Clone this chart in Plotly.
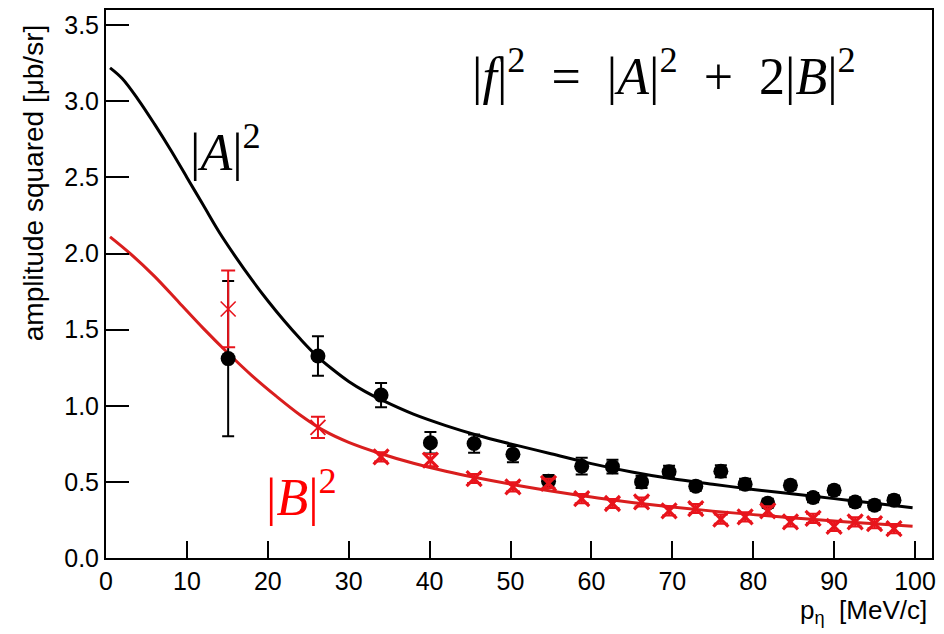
import plotly.graph_objects as go

# ---- data ----
# fitted curve |A|^2 (black), sampled points
curveA_x = [0.5, 2, 4, 6, 8, 10, 12, 14, 16, 18, 20, 22, 24, 26, 28, 30, 32, 34, 38, 42, 46,
            50, 55, 60, 65, 70, 75, 80, 85, 90, 95, 99.7]
curveA_y = [3.22, 3.15, 3.01, 2.85, 2.68, 2.50, 2.32, 2.14, 1.98, 1.83, 1.69, 1.56, 1.44, 1.33,
            1.24, 1.16, 1.095, 1.04, 0.945, 0.87, 0.805, 0.75, 0.685, 0.62, 0.565, 0.52, 0.485,
            0.45, 0.42, 0.39, 0.36, 0.33]

# fitted curve |B|^2 (red)
curveB_x = [0.5, 3, 6, 9, 12, 15, 18, 21, 24, 27, 30, 34, 38, 42, 46, 50, 55, 60, 65, 70,
            75, 80, 85, 90, 95, 99.7]
curveB_y = [2.11, 2.00, 1.85, 1.68, 1.51, 1.35, 1.20, 1.065, 0.94, 0.835, 0.76, 0.685, 0.622,
            0.57, 0.525, 0.485, 0.44, 0.40, 0.365, 0.335, 0.308, 0.285, 0.263, 0.243, 0.225,
            0.209]

# measured points
p_eta = [15.1, 26.2, 34.0, 40.1, 45.5, 50.3, 54.7, 58.8, 62.6, 66.2, 69.6, 72.9, 76.0, 79.0,
         81.8, 84.6, 87.4, 90.0, 92.6, 95.0, 97.4]
A2 = [1.31, 1.327, 1.07, 0.757, 0.752, 0.682, 0.505, 0.603, 0.60, 0.50, 0.566, 0.472, 0.57,
      0.485, 0.36, 0.478, 0.397, 0.445, 0.368, 0.347, 0.38]
A2_err = [0.51, 0.13, 0.08, 0.07, 0.06, 0.053, 0.04, 0.055, 0.045, 0.04, 0.04, 0.03, 0.04,
          0.035, 0.03, 0.03, 0.03, 0.03, 0.03, 0.03, 0.03]
B2 = [1.636, 0.858, 0.664, 0.643, 0.522, 0.467, 0.49, 0.39, 0.358, 0.368, 0.31, 0.325, 0.255,
      0.27, 0.31, 0.237, 0.26, 0.208, 0.237, 0.226, 0.193]
B2_err = [0.252, 0.07, 0.03, 0.04, 0.03, 0.03, 0.03, 0.03, 0.03, 0.03, 0.03, 0.03, 0.03,
          0.03, 0.03, 0.03, 0.03, 0.03, 0.03, 0.03, 0.03]

y_ticks = [0.0, 0.5, 1.0, 1.5, 2.0, 2.5, 3.0, 3.5]
y_ticklabels = ["0.0", "0.5", "1.0", "1.5", "2.0", "2.5", "3.0", "3.5"]
x_ticks = [0, 10, 20, 30, 40, 50, 60, 70, 80, 90, 100]

# ---- styles ----
RED_LINE = "#d91e1e"
RED_MARK = "#e8141c"
SANS = "Liberation Sans, Arial, sans-serif"
SERIF = "Liberation Serif, Times New Roman, serif"
red_marker_widths = [1.6, 1.8] + [3.2] * (len(p_eta) - 2)

fig = go.Figure()

fig.add_trace(go.Scatter(x=curveA_x, y=curveA_y, mode="lines", line_shape="spline",
                         line=dict(color="black", width=3), showlegend=False, hoverinfo="skip"))
fig.add_trace(go.Scatter(x=curveB_x, y=curveB_y, mode="lines", line_shape="spline",
                         line=dict(color=RED_LINE, width=3), showlegend=False, hoverinfo="skip"))

fig.add_trace(go.Scatter(x=p_eta, y=A2, mode="markers",
                         marker=dict(symbol="circle", size=15, color="black"),
                         error_y=dict(type="data", array=A2_err, visible=True,
                                      color="black", thickness=2, width=6),
                         showlegend=False))
fig.add_trace(go.Scatter(x=p_eta, y=B2, mode="markers",
                         marker=dict(symbol="x-thin", size=15, color=RED_MARK,
                                     line=dict(color=RED_MARK, width=red_marker_widths)),
                         error_y=dict(type="data", array=B2_err, visible=True,
                                      color=RED_MARK, thickness=2, width=7),
                         showlegend=False))

fig.add_annotation(x=14.8, y=2.69, xref="x", yref="y", showarrow=False,
                   text="|<i>A</i>|<sup>2</sup>",
                   font=dict(family=SERIF, size=52, color="black"))
fig.add_annotation(x=24.2, y=0.425, xref="x", yref="y", showarrow=False,
                   text="|<i>B</i>|<sup>2</sup>",
                   font=dict(family=SERIF, size=52, color="#ff0000"))
fig.add_annotation(x=69.0, y=3.19, xref="x", yref="y", showarrow=False,
                   text="|<i>f</i>|<sup>2</sup>&nbsp; = &nbsp;|<i>A</i>|<sup>2</sup>&nbsp; + &nbsp;2|<i>B</i>|<sup>2</sup>",
                   font=dict(family=SERIF, size=52, color="black"))

fig.add_annotation(x=-0.0876, y=0.685, xref="paper", yref="paper", showarrow=False,
                   text="amplitude squared [μb/sr]", textangle=-90,
                   xanchor="center", yanchor="middle",
                   font=dict(family=SANS, size=28, color="black"))
fig.add_annotation(x=0.9955, y=-0.066, xref="paper", yref="paper", showarrow=False,
                   text="p<sub>η</sub>  [MeV/c]", xanchor="right", yanchor="top",
                   borderpad=0,
                   font=dict(family=SANS, size=26, color="black"))

fig.update_xaxes(range=[0, 102.1], tickvals=x_ticks, ticktext=[str(v) for v in x_ticks],
                 ticks="inside", ticklen=17, tickwidth=2, tickcolor="black",
                 showline=True, linecolor="black", linewidth=2, mirror=True,
                 showgrid=False, zeroline=False,
                 tickfont=dict(family=SANS, size=25, color="black"))
fig.update_yaxes(range=[0, 3.6], tickvals=y_ticks, ticktext=y_ticklabels,
                 ticks="inside", ticklen=23, tickwidth=2, tickcolor="black",
                 showline=True, linecolor="black", linewidth=2, mirror=True,
                 showgrid=False, zeroline=False,
                 tickfont=dict(family=SANS, size=25, color="black"))

fig.update_layout(width=944, height=634, plot_bgcolor="white", paper_bgcolor="white",
                  margin=dict(l=106, r=8, t=10, b=76), showlegend=False)

fig.write_html("out.html")
